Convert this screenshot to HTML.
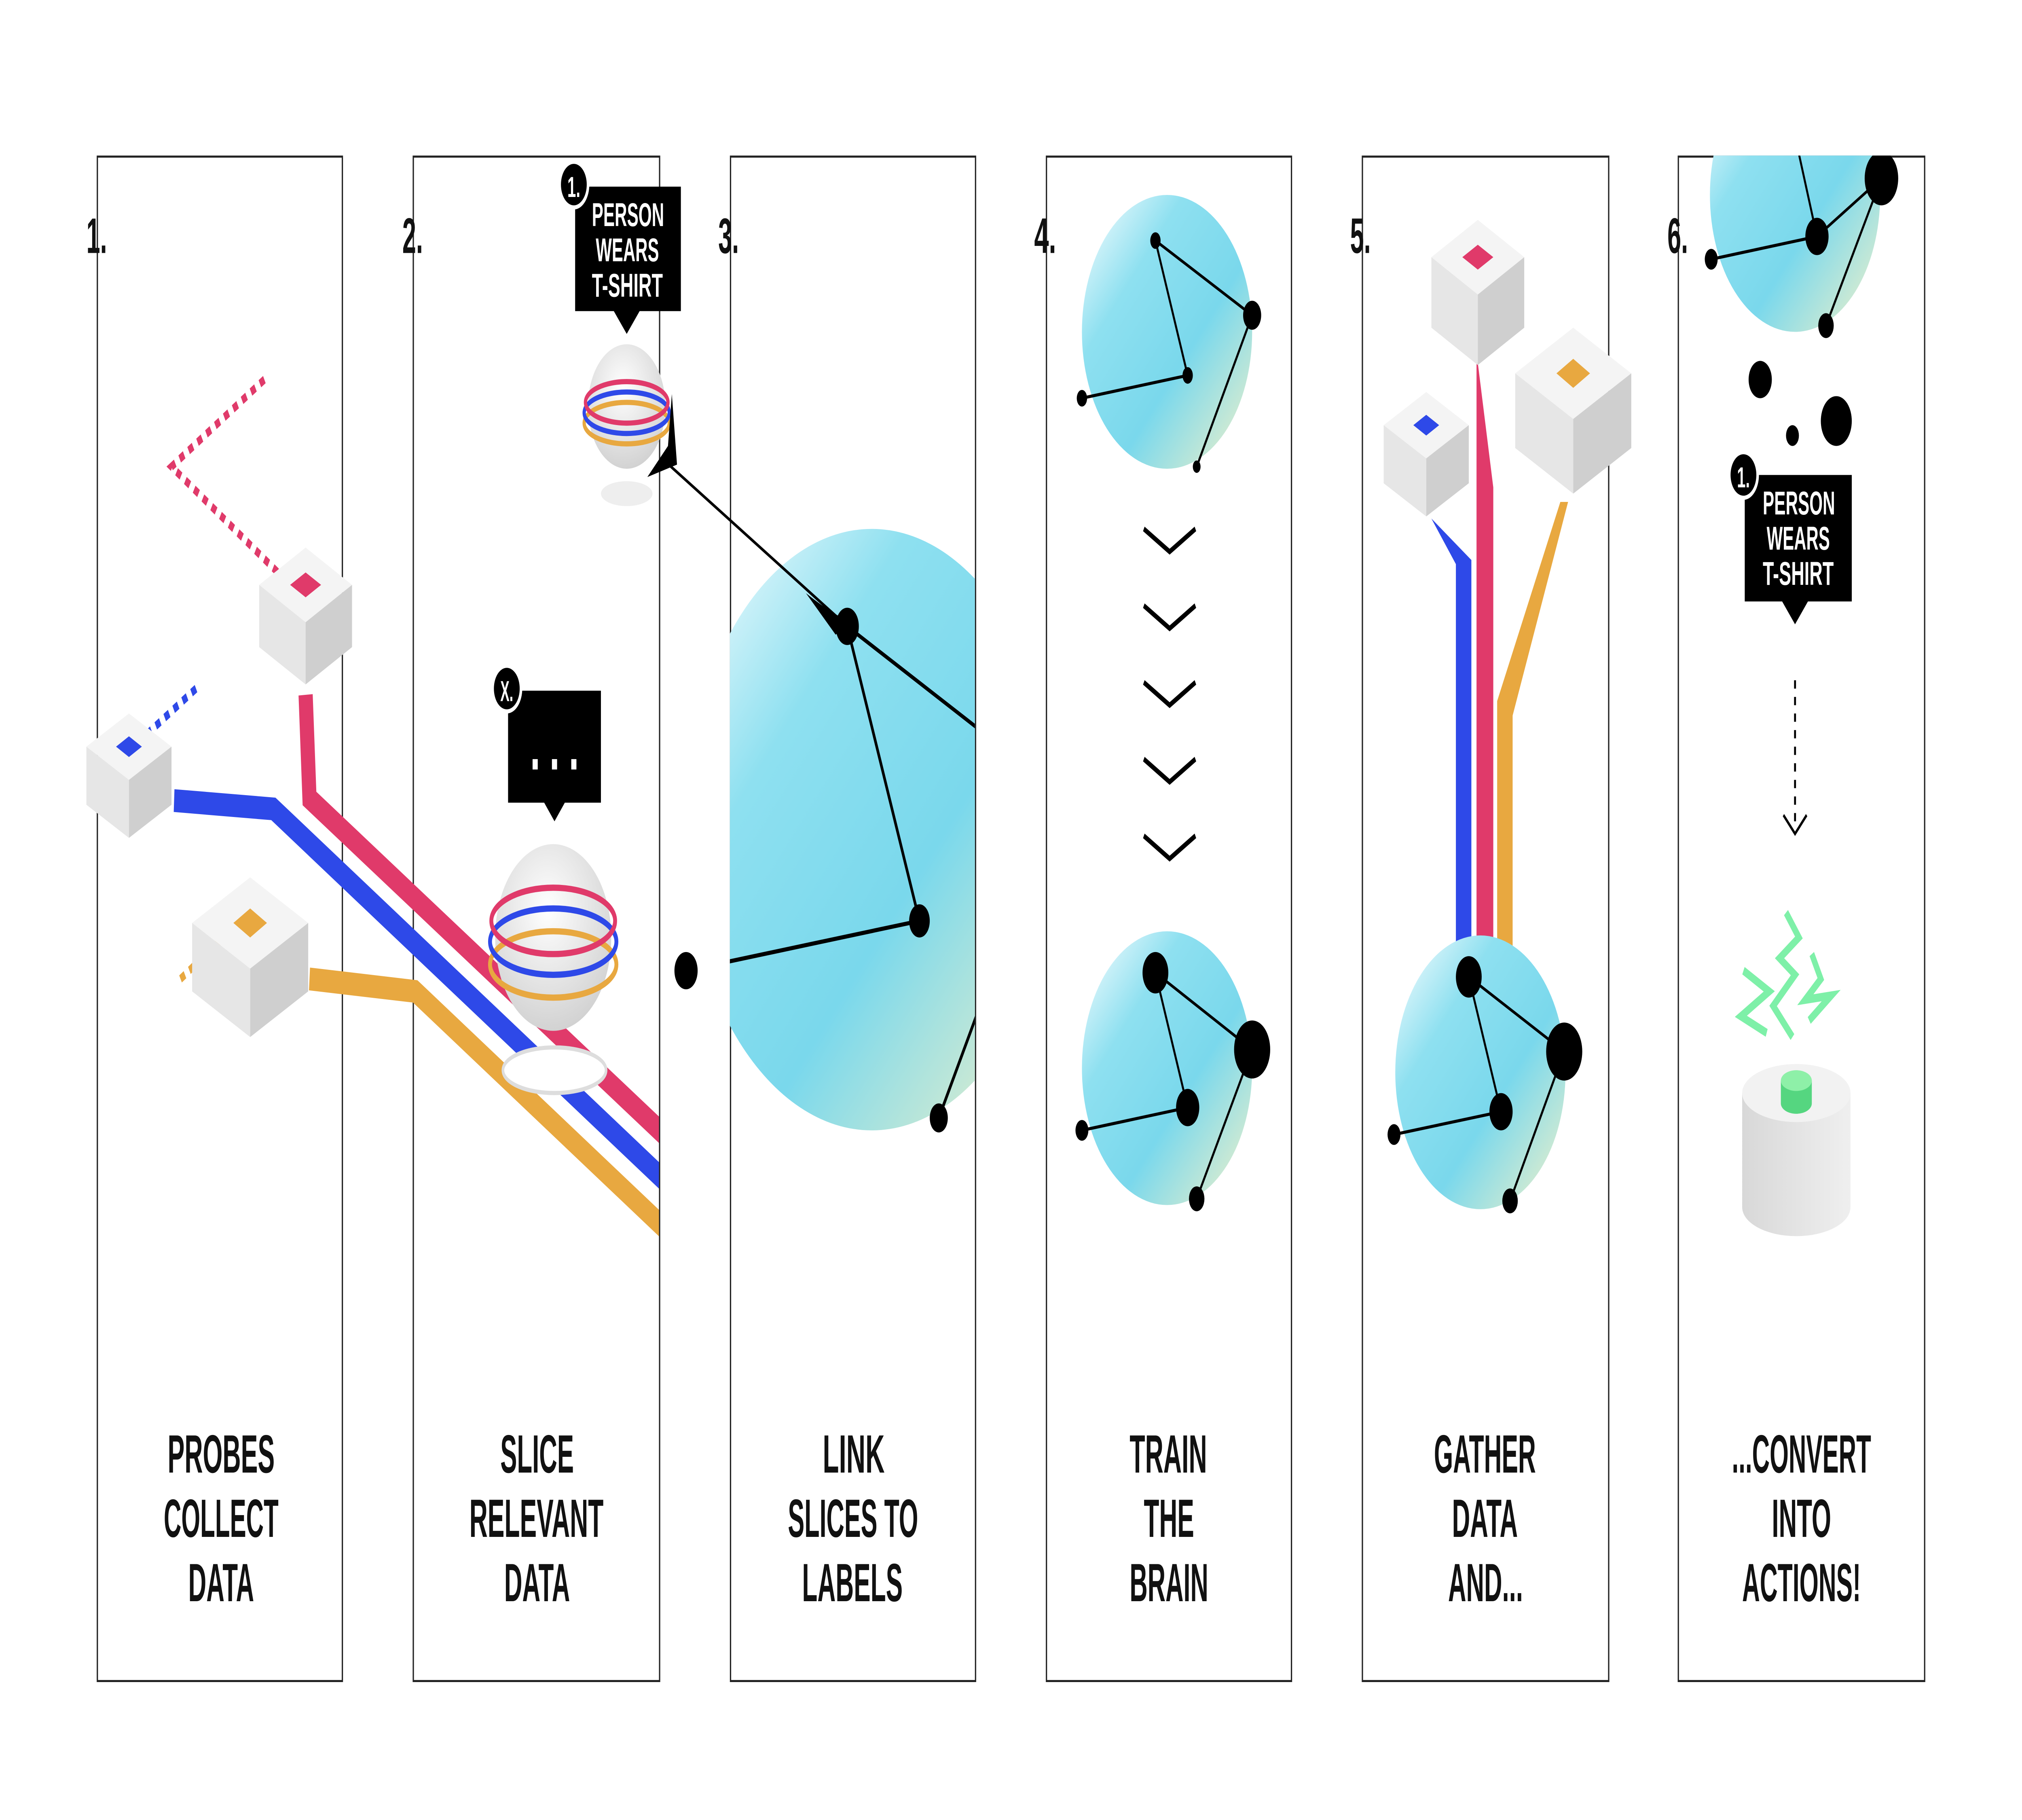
<!DOCTYPE html>
<html><head><meta charset="utf-8"><style>
html,body{margin:0;padding:0;background:#fff;overflow:hidden;width:100%;height:100%;}
svg{display:block;position:absolute;left:0;top:0;width:100vw;height:100vh;}
text{font-family:"Liberation Sans Narrow","Liberation Sans",sans-serif;font-weight:bold;}
</style></head><body>
<svg viewBox="0 0 1568 877.5" preserveAspectRatio="none" xmlns="http://www.w3.org/2000/svg">
<defs>
<linearGradient id="g" x1="0" y1="0" x2="1" y2="1">
<stop offset="0" stop-color="#ffffff"/><stop offset="0.3" stop-color="#8ee0f0"/><stop offset="0.6" stop-color="#7ad8ec"/><stop offset="1" stop-color="#f5f2c8"/></linearGradient>
<radialGradient id="sp" cx="0.45" cy="0.35" r="0.7"><stop offset="0" stop-color="#fff"/><stop offset="1" stop-color="#cfcfcf"/></radialGradient>
<linearGradient id="cyl" x1="0" x2="1"><stop offset="0" stop-color="#d8d8d8"/><stop offset="1" stop-color="#efefef"/></linearGradient>
<clipPath id="c3"><rect x="566" y="75" width="190" height="735"/></clipPath>
<clipPath id="c6"><rect x="1301" y="75" width="191" height="735"/></clipPath>
<clipPath id="c2"><rect x="75" y="75" width="436" height="735"/></clipPath>
</defs>
<g fill="none" stroke="#222" stroke-width="1">
<rect x="75.5" y="75.5" width="190" height="735"/>
<rect x="320.5" y="75.5" width="191" height="735"/>
<rect x="566.5" y="75.5" width="190" height="735"/>
<rect x="811.5" y="75.5" width="190" height="735"/>
<rect x="1056.5" y="75.5" width="191" height="735"/>
<rect x="1301.5" y="75.5" width="191" height="735"/>
</g>
<g font-size="24" fill="#111">
<text x="67" y="122" textLength="16" lengthAdjust="spacingAndGlyphs">1.</text><text x="312" y="122" textLength="16" lengthAdjust="spacingAndGlyphs">2.</text><text x="557" y="122" textLength="16" lengthAdjust="spacingAndGlyphs">3.</text>
<text x="802" y="122" textLength="17" lengthAdjust="spacingAndGlyphs">4.</text><text x="1047" y="122" textLength="16" lengthAdjust="spacingAndGlyphs">5.</text><text x="1293" y="122" textLength="16" lengthAdjust="spacingAndGlyphs">6.</text>
</g>
<g font-size="26" fill="#111">
<text x="130" y="710" textLength="83" lengthAdjust="spacingAndGlyphs">PROBES</text><text x="127" y="741" textLength="89" lengthAdjust="spacingAndGlyphs">COLLECT</text><text x="146" y="772" textLength="51" lengthAdjust="spacingAndGlyphs">DATA</text>
<text x="388" y="710" textLength="57" lengthAdjust="spacingAndGlyphs">SLICE</text><text x="364" y="741" textLength="104" lengthAdjust="spacingAndGlyphs">RELEVANT</text><text x="391" y="772" textLength="51" lengthAdjust="spacingAndGlyphs">DATA</text>
<text x="638" y="710" textLength="48" lengthAdjust="spacingAndGlyphs">LINK</text><text x="611" y="741" textLength="101" lengthAdjust="spacingAndGlyphs">SLICES TO</text><text x="622" y="772" textLength="78" lengthAdjust="spacingAndGlyphs">LABELS</text>
<text x="876" y="710" textLength="60" lengthAdjust="spacingAndGlyphs">TRAIN</text><text x="887" y="741" textLength="39" lengthAdjust="spacingAndGlyphs">THE</text><text x="876" y="772" textLength="61" lengthAdjust="spacingAndGlyphs">BRAIN</text>
<text x="1112" y="710" textLength="79" lengthAdjust="spacingAndGlyphs">GATHER</text><text x="1126" y="741" textLength="51" lengthAdjust="spacingAndGlyphs">DATA</text><text x="1123" y="772" textLength="58" lengthAdjust="spacingAndGlyphs">AND...</text>
<text x="1343" y="710" textLength="108" lengthAdjust="spacingAndGlyphs">...CONVERT</text><text x="1374" y="741" textLength="46" lengthAdjust="spacingAndGlyphs">INTO</text><text x="1351" y="772" textLength="92" lengthAdjust="spacingAndGlyphs">ACTIONS!</text>
</g>

<g clip-path="url(#c2)" fill="none" stroke-width="11" stroke-linejoin="miter">
<polyline points="240,472 322,478 520,595" stroke="#e8a840"/>
<polyline points="135,386 212,390 520,572" stroke="#2e49e8"/>
<polyline points="237,335 240,385 520,550" stroke="#e03a6a"/>
</g>
<g stroke-width="4" stroke-dasharray="4,4" fill="none">
<path d="M205,183 L133,225 L230,285" stroke="#e03a6a"/>
<path d="M152,332 L100,362" stroke="#2e49e8"/>
<path d="M140,472 L190,442" stroke="#e8a840"/>
</g>
<g transform="translate(237,282)"><path d="M0,-18 L36,0 L0,18 L-36,0Z" fill="#f4f4f4"/><path d="M-36,0 L0,18 L0,48 L-36,30Z" fill="#e6e6e6"/><path d="M36,0 L0,18 L0,48 L36,30Z" fill="#cfcfcf"/><path d="M0,-6 L12,0 L0,6 L-12,0Z" fill="#e03a6a"/></g>
<g transform="translate(100,360)"><path d="M0,-16 L33,0 L0,16 L-33,0Z" fill="#f4f4f4"/><path d="M-33,0 L0,16 L0,44 L-33,28Z" fill="#e6e6e6"/><path d="M33,0 L0,16 L0,44 L33,28Z" fill="#cfcfcf"/><path d="M0,-5 L10,0 L0,5 L-10,0Z" fill="#2e49e8"/></g>
<g transform="translate(194,445)"><path d="M0,-22 L45,0 L0,22 L-45,0Z" fill="#f4f4f4"/><path d="M-45,0 L0,22 L0,55 L-45,33Z" fill="#e6e6e6"/><path d="M45,0 L0,22 L0,55 L45,33Z" fill="#cfcfcf"/><path d="M0,-7 L13,0 L0,7 L-13,0Z" fill="#e8a840"/></g>

<path d="M446,90 H528 V150 H496 L486,161 L476,150 H446Z" fill="#000"/>
<circle cx="445" cy="89" r="11" fill="#000" stroke="#fff" stroke-width="2"/>
<text x="440" y="95" font-size="14" fill="#fff" textLength="10" lengthAdjust="spacingAndGlyphs">1.</text>
<g font-size="16" fill="#fff"><text x="459" y="109" textLength="56" lengthAdjust="spacingAndGlyphs">PERSON</text><text x="462" y="126" textLength="49" lengthAdjust="spacingAndGlyphs">WEARS</text><text x="459" y="143" textLength="55" lengthAdjust="spacingAndGlyphs">T-SHIRT</text></g>
<ellipse cx="486" cy="238" rx="20" ry="6" fill="#eee"/>
<circle cx="486" cy="196" r="30" fill="url(#sp)"/>
<g fill="none" stroke-width="2.5">
<ellipse cx="486" cy="204" rx="33" ry="10" stroke="#e8a840"/>
<ellipse cx="486" cy="199" rx="33" ry="10" stroke="#2e49e8"/>
<ellipse cx="486" cy="194" rx="32" ry="10" stroke="#e03a6a"/>
</g>
<path d="M394,333 H466 V387 H438 L430,396 L422,387 H394Z" fill="#000"/>
<circle cx="393" cy="332" r="11" fill="#000" stroke="#fff" stroke-width="2"/>
<text x="388" y="338" font-size="14" fill="#fff" textLength="10" lengthAdjust="spacingAndGlyphs">X.</text>
<g fill="#fff"><rect x="413" y="366" width="4" height="5"/><rect x="428" y="366" width="4" height="5"/><rect x="443" y="366" width="4" height="5"/></g>
<ellipse cx="430" cy="516" rx="40" ry="11" fill="#fff" stroke="#ddd" stroke-width="2"/>
<circle cx="429" cy="452" r="45" fill="url(#sp)"/>
<g fill="none" stroke-width="3">
<ellipse cx="429" cy="465" rx="49" ry="16" stroke="#e8a840"/>
<ellipse cx="429" cy="454" rx="49" ry="16" stroke="#2e49e8"/>
<ellipse cx="429" cy="444" rx="48" ry="16" stroke="#e03a6a"/>
</g>

<g clip-path="url(#c3)">
<circle cx="676" cy="400" r="145" fill="url(#g)"/>
<g stroke="#000" stroke-width="2" fill="none">
<line x1="657" y1="302" x2="713" y2="444"/><line x1="713" y1="444" x2="532" y2="468"/>
<line x1="657" y1="302" x2="760" y2="352"/><line x1="728" y1="539" x2="760" y2="485"/>
</g>
<circle cx="713" cy="444" r="8" fill="#000"/><circle cx="728" cy="539" r="7" fill="#000"/>
</g>
<circle cx="532" cy="468" r="9" fill="#000"/>
<line x1="515" y1="222" x2="650" y2="298" stroke="#000" stroke-width="1.5"/>
<path d="M521,190 L518,215 L502,230 L525,224 Z" fill="#000"/>
<path d="M625,286 Q645,296 660,300 L648,306 Z" fill="#000"/>
<circle cx="657" cy="302" r="9" fill="#000"/>

<circle cx="905" cy="160" r="66" fill="url(#g)"/>
<g stroke="#000" stroke-width="1.5" fill="none">
<polyline points="971,152 896,116 921,181 839,192"/><line x1="971" y1="152" x2="928" y2="225"/>
</g>
<g fill="#000"><circle cx="896" cy="116" r="4"/><circle cx="971" cy="152" r="7"/><circle cx="921" cy="181" r="4"/><circle cx="839" cy="192" r="4"/><circle cx="928" cy="225" r="3"/></g>
<g stroke="#000" stroke-width="2.5" fill="none">
<polyline points="887,255 907,266 927,255"/><polyline points="887,292 907,303 927,292"/><polyline points="887,329 907,340 927,329"/><polyline points="887,366 907,377 927,366"/><polyline points="887,403 907,414 927,403"/>
</g>
<circle cx="905" cy="515" r="66" fill="url(#g)"/>
<g stroke="#000" stroke-width="1.5" fill="none">
<polyline points="971,506 896,469 921,534 839,545"/><line x1="971" y1="506" x2="928" y2="578"/>
</g>
<g fill="#000"><circle cx="896" cy="469" r="10"/><circle cx="971" cy="506" r="14"/><circle cx="921" cy="534" r="9"/><circle cx="839" cy="545" r="5"/><circle cx="928" cy="578" r="6"/></g>

<polygon points="1110,250 1141,270 1141,460 1129,460 1129,272" fill="#2e49e8"/>
<polygon points="1145,170 1158,235 1158,460 1145,460" fill="#e03a6a"/>
<polygon points="1216,242 1173,345 1173,460 1161,460 1161,338 1210,242" fill="#e8a840"/>
<g transform="translate(1146,124)"><path d="M0,-18 L36,0 L0,18 L-36,0Z" fill="#f4f4f4"/><path d="M-36,0 L0,18 L0,52 L-36,34Z" fill="#e6e6e6"/><path d="M36,0 L0,18 L0,52 L36,34Z" fill="#cfcfcf"/><path d="M0,-6 L12,0 L0,6 L-12,0Z" fill="#e03a6a"/></g>
<g transform="translate(1106,205)"><path d="M0,-16 L33,0 L0,16 L-33,0Z" fill="#f4f4f4"/><path d="M-33,0 L0,16 L0,44 L-33,28Z" fill="#e6e6e6"/><path d="M33,0 L0,16 L0,44 L33,28Z" fill="#cfcfcf"/><path d="M0,-5 L10,0 L0,5 L-10,0Z" fill="#2e49e8"/></g>
<g transform="translate(1220,180)"><path d="M0,-22 L45,0 L0,22 L-45,0Z" fill="#f4f4f4"/><path d="M-45,0 L0,22 L0,58 L-45,36Z" fill="#e6e6e6"/><path d="M45,0 L0,22 L0,58 L45,36Z" fill="#cfcfcf"/><path d="M0,-7 L13,0 L0,7 L-13,0Z" fill="#e8a840"/></g>
<circle cx="1148" cy="517" r="66" fill="url(#g)"/>
<g stroke="#000" stroke-width="1.5" fill="none">
<polyline points="1213,507 1139,471 1164,536 1081,547"/><line x1="1213" y1="507" x2="1171" y2="579"/>
</g>
<g fill="#000"><circle cx="1139" cy="471" r="10"/><circle cx="1213" cy="507" r="14"/><circle cx="1164" cy="536" r="9"/><circle cx="1081" cy="547" r="5"/><circle cx="1171" cy="579" r="6"/></g>

<g clip-path="url(#c6)">
<circle cx="1392" cy="94" r="66" fill="url(#g)"/>
<g stroke="#000" stroke-width="1.5" fill="none">
<polyline points="1459,86 1409,114 1327,125"/><line x1="1409" y1="114" x2="1390" y2="60"/><line x1="1459" y1="86" x2="1416" y2="157"/>
</g>
<g fill="#000"><circle cx="1409" cy="114" r="9"/><circle cx="1459" cy="86" r="13"/><circle cx="1327" cy="125" r="5"/><circle cx="1416" cy="157" r="6"/></g>
</g>
<g fill="#000"><circle cx="1365" cy="183" r="9"/><circle cx="1390" cy="210" r="5"/><circle cx="1424" cy="203" r="12"/></g>
<path d="M1353,229 H1436 V290 H1402 L1392,301 L1382,290 H1353Z" fill="#000"/>
<circle cx="1352" cy="229" r="11" fill="#000" stroke="#fff" stroke-width="2"/>
<text x="1347" y="235" font-size="14" fill="#fff" textLength="10" lengthAdjust="spacingAndGlyphs">1.</text>
<g font-size="16" fill="#fff"><text x="1367" y="248" textLength="56" lengthAdjust="spacingAndGlyphs">PERSON</text><text x="1370" y="265" textLength="49" lengthAdjust="spacingAndGlyphs">WEARS</text><text x="1367" y="282" textLength="55" lengthAdjust="spacingAndGlyphs">T-SHIRT</text></g>
<line x1="1392" y1="328" x2="1392" y2="400" stroke="#000" stroke-width="1.5" stroke-dasharray="4,4"/>
<polyline points="1383,393 1392,402 1401,393" fill="none" stroke="#000" stroke-width="1.5"/>
<g fill="none" stroke="#7ef0a8" stroke-width="4" stroke-linejoin="miter">
<polyline points="1385,440 1395,452 1380,462 1392,470 1375,485 1390,500"/>
<polyline points="1352,468 1372,478 1350,490 1370,498"/>
<polyline points="1405,460 1412,472 1400,482 1420,480 1403,492"/>
</g>
<path d="M1351,527 V582 A42,14 0 0 0 1435,582 V527Z" fill="url(#cyl)"/>
<ellipse cx="1393" cy="527" rx="42" ry="14" fill="#f2f2f2"/>
<path d="M1381,521 V532 A12,5 0 0 0 1405,532 V521Z" fill="#55d680"/>
<ellipse cx="1393" cy="521" rx="12" ry="5" fill="#8ef0a8"/>
</svg>
</body></html>
